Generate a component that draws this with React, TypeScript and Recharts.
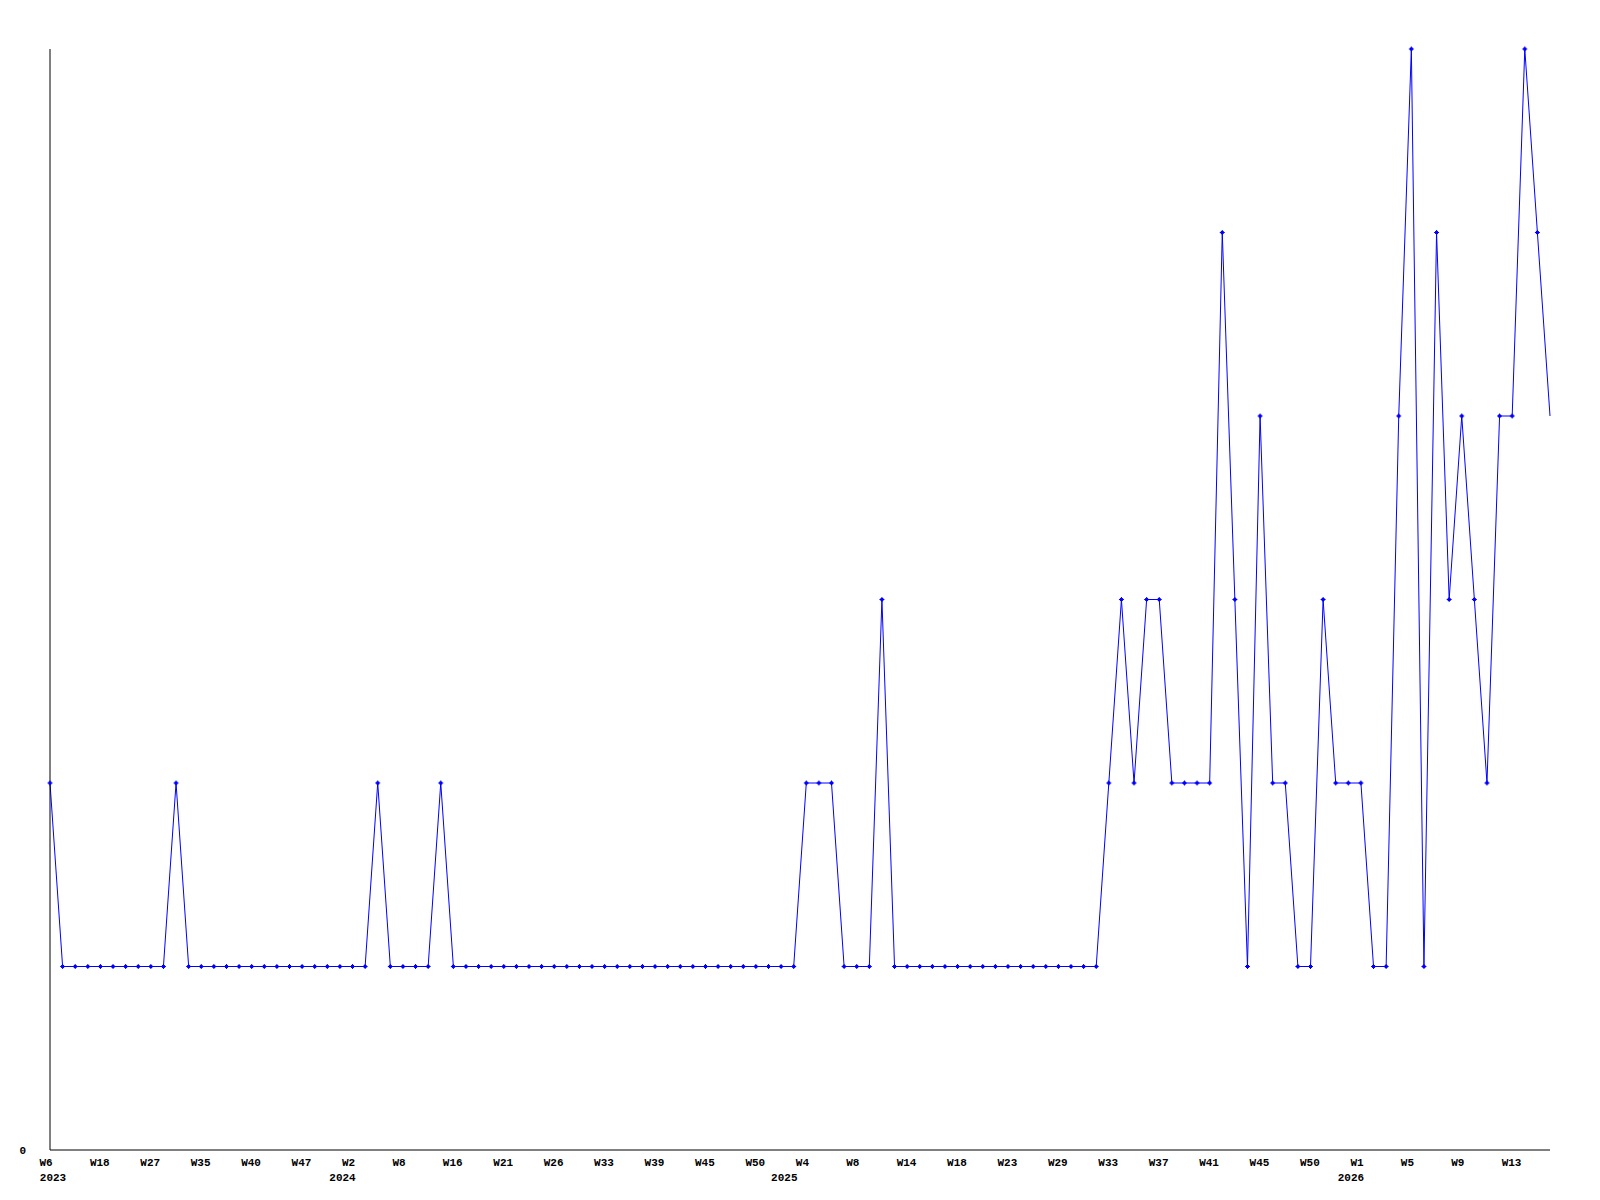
import { LineChart, Line, XAxis, YAxis } from "recharts";

// one category per reported week (weeks with no entry are not in the list)
const weeks = [
  "2023-W6", "2023-W9", "2023-W12", "2023-W15", "2023-W18", "2023-W20", "2023-W22", "2023-W25",
  "2023-W27", "2023-W29", "2023-W31", "2023-W33", "2023-W35", "2023-W36", "2023-W37", "2023-W39",
  "2023-W40", "2023-W42", "2023-W44", "2023-W46", "2023-W47", "2023-W49", "2023-W50", "2023-W52",
  "2024-W2", "2024-W4", "2024-W5", "2024-W7", "2024-W8", "2024-W10", "2024-W12", "2024-W14",
  "2024-W16", "2024-W17", "2024-W19", "2024-W20", "2024-W21", "2024-W23", "2024-W24", "2024-W25",
  "2024-W26", "2024-W28", "2024-W30", "2024-W31", "2024-W33", "2024-W35", "2024-W36", "2024-W38",
  "2024-W39", "2024-W41", "2024-W42", "2024-W44", "2024-W45", "2024-W46", "2024-W48", "2024-W49",
  "2024-W50", "2024-W51", "2024-W52",
  "2025-W2", "2025-W4", "2025-W5", "2025-W6", "2025-W7", "2025-W8", "2025-W10", "2025-W11",
  "2025-W13", "2025-W14", "2025-W15", "2025-W16", "2025-W17", "2025-W18", "2025-W19", "2025-W21",
  "2025-W22", "2025-W23", "2025-W25", "2025-W26", "2025-W27", "2025-W29", "2025-W30", "2025-W31",
  "2025-W32", "2025-W33", "2025-W34", "2025-W35", "2025-W36", "2025-W37", "2025-W38", "2025-W39",
  "2025-W40", "2025-W41", "2025-W42", "2025-W43", "2025-W44", "2025-W45", "2025-W46", "2025-W47",
  "2025-W48", "2025-W50", "2025-W51", "2025-W52", "2025-W53",
  "2026-W1", "2026-W2", "2026-W3", "2026-W4", "2026-W5", "2026-W6", "2026-W7", "2026-W8",
  "2026-W9", "2026-W10", "2026-W11", "2026-W12", "2026-W13", "2026-W14", "2026-W15", "2026-W16",
];

const counts2023 = [2, 1, 1, 1, 1, 1, 1, 1, 1, 1, 2, 1, 1, 1, 1, 1, 1, 1, 1, 1, 1, 1, 1, 1];
const counts2024 = [
  1, 1, 2, 1, 1, 1, 1, 2, 1, 1, 1, 1, 1, 1, 1, 1, 1, 1, 1, 1, 1, 1, 1, 1, 1, 1, 1, 1, 1, 1, 1, 1, 1,
  1, 1,
];
const counts2025 = [
  1, 2, 2, 2, 1, 1, 1, 3, 1, 1, 1, 1, 1, 1, 1, 1, 1, 1, 1, 1, 1, 1, 1, 1, 1, 2, 3, 2, 3, 3, 2, 2, 2,
  2, 5, 3, 1, 4, 2, 2, 1, 1, 3, 2, 2,
];
const counts2026 = [2, 1, 1, 4, 6, 1, 5, 3, 4, 3, 2, 4, 4, 6, 5, 4];

const counts = [...counts2023, ...counts2024, ...counts2025, ...counts2026];
const data = weeks.map((week, i) => ({ week, count: counts[i] }));

const FONT = '"Liberation Mono", "DejaVu Sans Mono", monospace';
const FONT_SIZE = 11;
// year caption sits a little left of the first labelled week of that year
const YEAR_SHIFT: Record<string, number> = { "2023": 3, "2024": -10, "2025": -22, "2026": -10 };

function WeekTick({ x, y, payload }: any) {
  const i = weeks.indexOf(payload.value);
  const [year, wk] = String(payload.value).split("-");
  const prevYear = i >= 4 ? weeks[i - 4].split("-")[0] : null;
  const showYear = i === 0 || prevYear !== year;
  return (
    <g>
      <text
        x={x - 10.5}
        y={y + 16}
        textAnchor="start"
        fontFamily={FONT}
        fontWeight="bold"
        fontSize={FONT_SIZE}
        fill="#000"
      >
        {wk}
      </text>
      {showYear && (
        <text
          x={x + (YEAR_SHIFT[year] ?? 0)}
          y={y + 31}
          textAnchor="middle"
          fontFamily={FONT}
          fontWeight="bold"
          fontSize={FONT_SIZE}
          fill="#000"
        >
          {year}
        </text>
      )}
    </g>
  );
}

function CountTick({ x, y, payload }: any) {
  return (
    <text x={x - 24} y={y + 3.5} textAnchor="end" fontFamily={FONT} fontWeight="bold" fontSize={FONT_SIZE} fill="#000">
      {payload.value}
    </text>
  );
}

function PlusDot({ cx, cy, index }: any) {
  // the newest week is drawn without a marker
  if (index === weeks.length - 1) return <g key={`dot-${index}`} />;
  return (
    <g key={`dot-${index}`} fill="#0000ff">
      <rect x={cx - 2.5} y={cy - 0.5} width={5} height={1} />
      <rect x={cx - 0.5} y={cy - 2.5} width={1} height={5} />
      <rect x={cx - 1.5} y={cy - 1.5} width={3} height={3} />
    </g>
  );
}

export default function App() {
  return (
    <div style={{ position: "absolute", left: 0, top: 0, background: "#fff" }}>
      <LineChart width={1600} height={1200} data={data} margin={{ top: 49, right: 50, bottom: 0, left: 0 }}>
        <XAxis
          dataKey="week"
          interval={3}
          height={50}
          tickLine={false}
          tickSize={0}
          tickMargin={0}
          axisLine={{ stroke: "#000", strokeWidth: 1 }}
          tick={<WeekTick />}
        />
        <YAxis
          width={50}
          domain={[0, 6]}
          ticks={[0]}
          tickLine={false}
          tickSize={0}
          tickMargin={0}
          axisLine={{ stroke: "#000", strokeWidth: 1 }}
          tick={<CountTick />}
        />
        <Line
          type="linear"
          dataKey="count"
          stroke="#0000ff"
          strokeWidth={1}
          dot={(p: any) => <PlusDot key={`dot-${p.index}`} {...p} />}
          activeDot={false}
          isAnimationActive={false}
        />
      </LineChart>
    </div>
  );
}
